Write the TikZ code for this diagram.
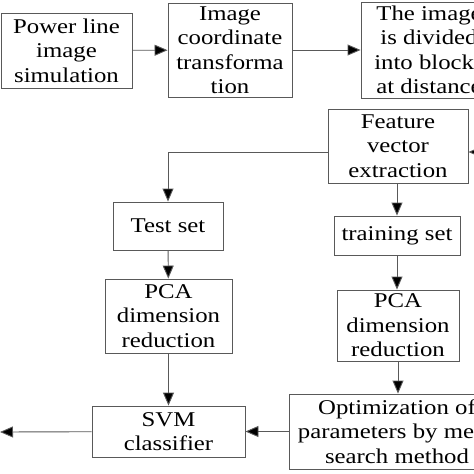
\documentclass[tikz,border=0pt]{standalone}
\usepackage{fontspec}
\setmainfont{Liberation Serif}[FakeStretch=1.18]
\usetikzlibrary{arrows.meta}
\tikzset{
	box/.style={draw=black!65, line width=0.9pt, inner sep=0pt, align=center,
		font=\fontsize{21}{24.5}\selectfont},
	arr/.style={draw=black!65, line width=0.9pt, -{Triangle[length=13pt,width=11pt,fill=black]}}
}
\begin{document}
\begin{tikzpicture}[x=1pt,y=-1pt]
			\useasboundingbox (0,0) rectangle (474,474);
			\clip (0,0) rectangle (474,474);
			% top row
			\node[box, minimum width=131pt, minimum height=75pt] (sim) at (66.5,50.5) {Power line\\image\\simulation};
			\node[box, minimum width=124pt, minimum height=94pt] (coord) at (230,50) {Image\\coordinate\\transforma\\tion};
			\node[box, minimum width=136pt, minimum height=96pt] (block) at (429,50) {The image\\is divided\\into blocks\\at distance};
			% right column
			\node[box, minimum width=140pt, minimum height=74pt] (feat) at (398,146) {Feature\\vector\\extraction};
			\node[box, minimum width=126pt, minimum height=39pt] (train) at (397,235.5) {training set};
			\node[box, minimum width=122pt, minimum height=71pt] (pcaB) at (398,325.5) {PCA\\dimension\\reduction};
			\node[box, minimum width=216pt, minimum height=75pt] (opt) at (397,431.5) {Optimization of\\parameters by mesh\\search method};
			% left column
			\node[box, minimum width=110pt, minimum height=48pt] (test) at (168,226) {Test set};
			\node[box, minimum width=127pt, minimum height=74pt] (pcaA) at (168.5,316) {PCA\\dimension\\reduction};
			\node[box, minimum width=153pt, minimum height=51pt] (svm) at (168.5,431.5) {SVM\\classifier};
			\coordinate (fromblock) at (490,152);
			\coordinate (out) at (0,432);
			% connectors
			\draw[arr] (sim) -- (coord);
			\draw[arr] (coord) -- (block);
			\draw[arr] (fromblock) -- ([yshift=-6pt]feat.east);
			\draw[arr] ([yshift=-6pt]feat.west) -| (test.north);
			\draw[arr] (test) -- (pcaA);
			\draw[arr] (pcaA) -- (svm);
			\draw[arr] (feat.south -| train.north) -- (train.north);
			\draw[arr] (train) -- (train |- pcaB.north);
			\draw[arr] (pcaB.south) -- (pcaB.south |- opt.north);
			\draw[arr] (opt) -- (svm);
			\draw[arr] (svm) -- (out);
		\end{tikzpicture}
\end{document}
